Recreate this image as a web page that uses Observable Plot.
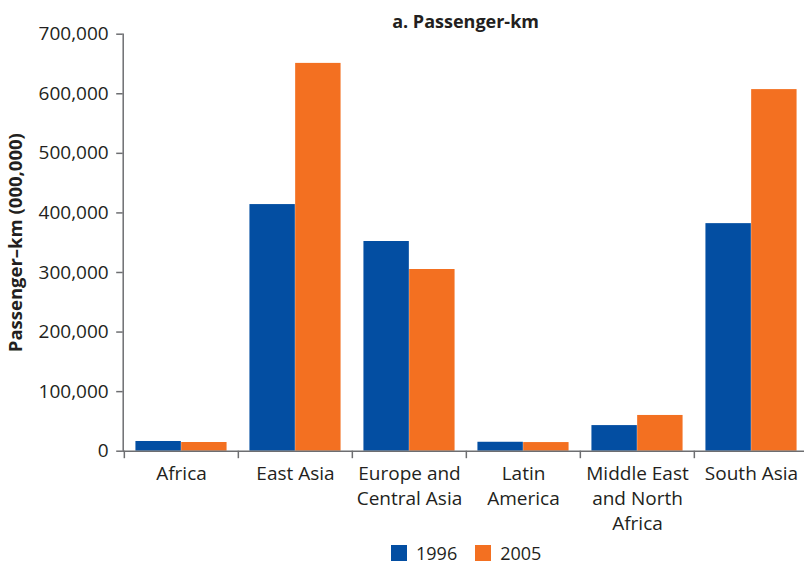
<!DOCTYPE html>
<html><head><meta charset="utf-8">
<script src="https://cdn.jsdelivr.net/npm/d3@7"></script>
<script src="https://cdn.jsdelivr.net/npm/@observablehq/plot@0.6"></script>
<style>
body{margin:0;background:#fff;font-family:"Open Sans",sans-serif;color:#231f20}
#wrap{position:relative;width:804px;height:563px;overflow:hidden}
#chart svg{display:block}
#title{position:absolute;left:465.6px;transform:translateX(-50%);top:11px;font-weight:bold;font-size:18px;line-height:20px;white-space:nowrap}
#legend{position:absolute;left:391px;top:536px}
</style></head><body>
<div id="wrap"><div id="chart"></div><div id="title">a. Passenger-km</div><div id="legend"></div></div>
<script>
const regions = ["Africa", "East Asia", "Europe and Central Asia", "Latin America", "Middle East and North Africa", "South Asia"];
const regionLabels = ["Africa", "East Asia", "Europe and\nCentral Asia", "Latin\nAmerica", "Middle East\nand North\nAfrica", "South Asia"];
const years = ["1996", "2005"];
const values1996 = [16300, 414000, 352000, 15000, 43000, 382000];
const values2005 = [14600, 651000, 305000, 14500, 60000, 607000];
const yTicks = [0, 100000, 200000, 300000, 400000, 500000, 600000, 700000];
const colors = ["#034ea2", "#f37021"];
const yTitle = "Passenger\u2013km (000,000)";

const rows = regions.flatMap((r, i) => [
  {region: r, year: years[0], value: values1996[i]},
  {region: r, year: years[1], value: values2005[i]}
]);

const W = 804, H = 538, mL = 122.7, mR = -4.6, mT = 33.7, mB = H - 450.7;
const bw = (W - mL - mR) / regions.length;
const gray = "#6d6e71", ink = "#231f20";

const chart = Plot.plot({
  width: W, height: H,
  marginLeft: mL, marginRight: mR, marginTop: mT, marginBottom: mB,
  style: {fontFamily: '"Open Sans",sans-serif', fontSize: "19px", color: ink, background: "#fff", overflow: "visible"},
  x: {domain: regions, padding: 0},
  y: {domain: [0, 700000]},
  color: {domain: years, range: colors},
  marks: [
    Plot.barY(rows.filter(d => d.year === years[0]), {x: "region", y: "value", fill: "year", insetLeft: bw * 0.1, insetRight: bw * 0.5}),
    Plot.barY(rows.filter(d => d.year === years[1]), {x: "region", y: "value", fill: "year", insetLeft: bw * 0.5, insetRight: bw * 0.1}),
    Plot.axisY({ticks: yTicks, tickFormat: d3.format(","), tickSize: 6.5, tickPadding: 8, stroke: gray, strokeWidth: 1.5, fill: ink, label: null}),
    Plot.axisX({tickSize: 0, tickPadding: 11, tickFormat: d => regionLabels[regions.indexOf(d)], lineHeight: 1.32, label: null, fill: ink}),
    Plot.axisX({tickSize: 7.5, fill: "none", label: null, stroke: gray, strokeWidth: 1.5, dx: -bw / 2}),
    Plot.ruleY([0], {stroke: gray, strokeWidth: 1.5}),
    Plot.frame({anchor: "left", stroke: gray, strokeWidth: 1.5}),
    Plot.text([yTitle], {frameAnchor: "left", textAnchor: "middle", rotate: -90, dx: -106.7, fontWeight: "bold", fontSize: 18.5, fill: ink})
  ]
});
document.getElementById("chart").appendChild(chart);

const legend = Plot.legend({
  color: {domain: years, range: colors},
  swatchSize: 16,
  style: {fontFamily: '"Open Sans",sans-serif', fontSize: "18px", color: ink}
});
document.getElementById("legend").appendChild(legend);
</script>
</body></html>
